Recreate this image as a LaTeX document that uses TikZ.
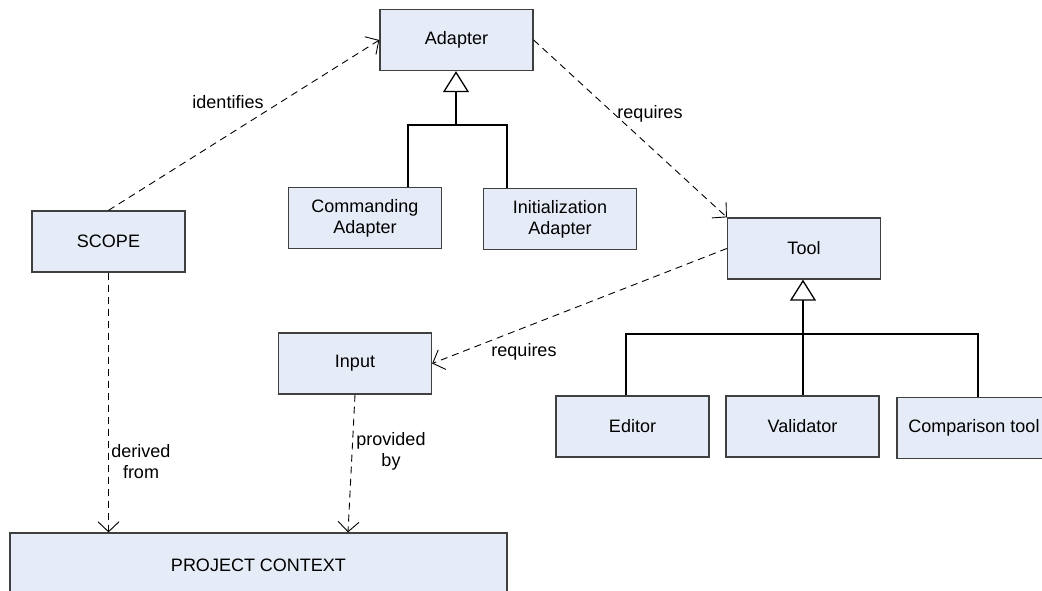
\documentclass[tikz,border=0pt]{standalone}
\usepackage{fontspec}
\setmainfont{Liberation Sans}
\usetikzlibrary{arrows.meta}
\definecolor{boxfill}{RGB}{230,236,247}
\definecolor{boxline}{RGB}{64,64,64}
\tikzset{
  classbox/.style={draw=boxline, fill=boxfill, line width=1.3pt, inner sep=0pt,
    minimum width=153pt, minimum height=61pt, align=center},
  depends/.style={draw=black, line width=0.9pt, dash pattern=on 7pt off 5pt,
    -{Straight Barb[length=10pt,width=21pt,line width=0.9pt]}},
  inherits/.style={draw=black, line width=1.1pt,
    -{Triangle[open,length=21pt,width=26pt,line width=1.3pt,fill=white]}},
  branch/.style={draw=black, line width=1.1pt},
  lbl/.style={inner sep=0pt, align=center}
}
\begin{document}
\begin{tikzpicture}[x=1pt, y=-1pt, font=\fontsize{18}{21}\selectfont]
\useasboundingbox (0,0) rectangle (1042,590);
\clip (0,0) rectangle (1042,590);
\fill[white] (0,0) rectangle (1042,590);

% classes
\node[classbox] (adapter) at (456.5,40) {Adapter};
\node[classbox] (cmd) at (365,218) {Commanding\\Adapter};
\node[classbox] (init) at (560,219) {Initialization\\Adapter};
\node[classbox] (scope) at (108.5,241.5) {SCOPE};
\node[classbox] (tool) at (804,248.5) {Tool};
\node[classbox] (input) at (355,363.5) {Input};
\node[classbox] (editor) at (632.5,426.5) {Editor};
\node[classbox] (validator) at (802.5,426.5) {Validator};
\node[classbox, minimum width=154pt] (comparison) at (974,428) {Comparison tool};
\node[classbox, minimum width=497pt, minimum height=64pt] (context) at (258.5,565) {PROJECT CONTEXT};

% generalization of the adapters
\coordinate (abus) at (456,125);
\draw[branch] ([xshift=43pt]cmd.north) |- (abus);
\draw[branch] ([xshift=-53pt]init.north) |- (abus);
\draw[inherits] (abus) -- (adapter.south -| abus);

% generalization of the tools
\coordinate (tbus) at (803,334);
\draw[branch] ([xshift=-6.5pt]editor.north) |- (tbus);
\draw[branch] ([xshift=4pt]comparison.north) |- (tbus);
\draw[branch] (validator.north -| tbus) -- (tbus);
\draw[inherits] (tbus) -- (tool.south -| tbus);

% dependencies
\draw[depends] (scope.north) -- (adapter.west);
\draw[depends] (adapter.east) -- (tool.north west);
\draw[depends] (tool.west) -- (input.east);
\draw[depends] (scope.south) -- (scope.south |- context.north);
\draw[depends] (input.south) -- ([xshift=89.5pt]context.north);

% labels
\node[lbl] (lidentifies) at (228,102) {identifies};
\node[lbl] (lrequiresA) at (650,114) {requires};
\node[lbl] (lrequiresB) at (524,352) {requires};
\node[lbl] (lderived) at (141,462) {derived\\from};
\node[lbl] (lprovided) at (391,451) {provided\\by};
\end{tikzpicture}
\end{document}
